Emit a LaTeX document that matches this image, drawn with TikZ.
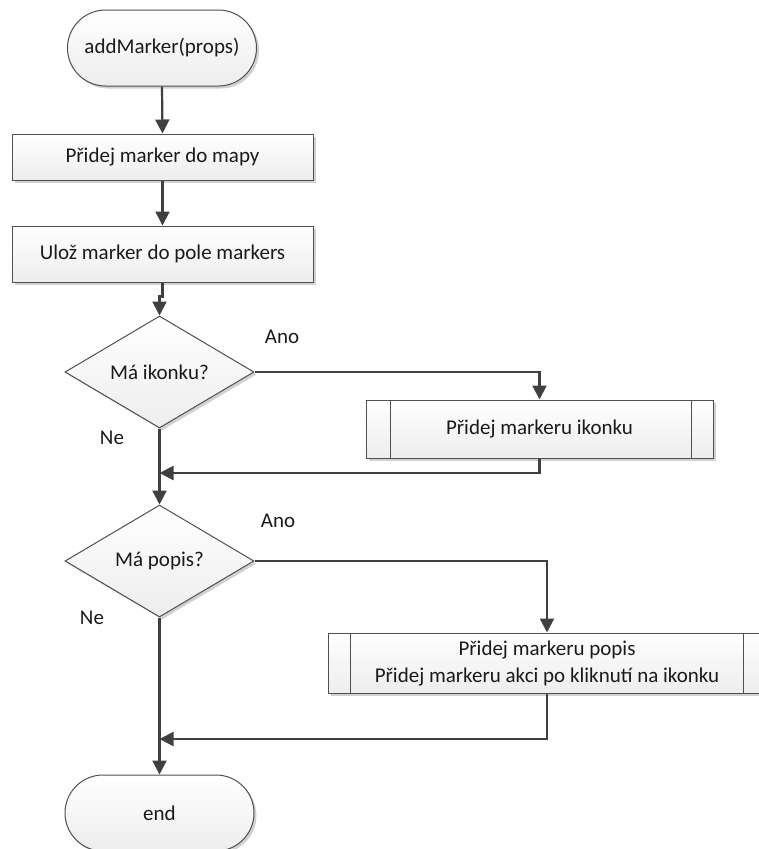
\documentclass[tikz,border=0pt]{standalone}
\usepackage{fontspec}
\setmainfont{Carlito}
\usetikzlibrary{arrows.meta,shapes.geometric,shapes.misc,shadows,calc}

\definecolor{linecol}{HTML}{404040}
\definecolor{edgecol}{HTML}{505050}
\definecolor{txtcol}{HTML}{1A1A1A}

\tikzset{
  shapebase/.style={draw=edgecol, line width=1pt, top color=white, bottom color=black!7,
    text=txtcol, inner sep=0pt, align=center,
    font=\fontsize{21}{27}\selectfont,
    drop shadow={shadow xshift=2.5pt, shadow yshift=-2.5pt, opacity=0.18, fill=black}},
  terminal/.style={shapebase, rounded rectangle, minimum width=189pt, minimum height=76pt},
  procbox/.style={shapebase, rectangle, minimum width=301pt},
  decision/.style={shapebase, diamond, aspect=1.69, minimum width=189pt, minimum height=112pt},
  subproc/.style={shapebase, rectangle},
  flow/.style={draw=linecol, line width=2.2pt, -{Triangle[width=14pt,length=14pt]}},
  lbl/.style={text=txtcol, font=\fontsize{21}{27}\selectfont, inner sep=0pt}
}

\begin{document}
\begin{tikzpicture}[x=1pt, y=-1pt]
  \useasboundingbox (0,0) rectangle (759,849);

  % main column
  \node[terminal] (start) at (162,48) {addMarker(props)};
  \node[procbox, minimum height=46pt] (add) at (162.5,157) {Přidej marker do mapy};
  \node[procbox, minimum height=56pt] (save) at (162.5,254) {Ulož marker do pole markers};
  \node[decision] (hasicon) at (159.5,372) {Má ikonku?};
  \node[decision] (hasdesc) at (159.5,561) {Má popis?};
  \node[terminal] (stop) at (159.5,813) {end};

  % sub-process boxes with side bars
  \node[subproc, minimum width=347pt, minimum height=58pt] (seticon) at (539.5,429) {Přidej markeru ikonku};
  \draw[edgecol, line width=1pt] ($(seticon.north west)+(25,0)$) -- ($(seticon.south west)+(25,0)$);
  \draw[edgecol, line width=1pt] ($(seticon.north east)+(-22,0)$) -- ($(seticon.south east)+(-22,0)$);

  \node[subproc, minimum width=438pt, minimum height=60pt] (setdesc) at (547,663)
    {Přidej markeru popis\\Přidej markeru akci po kliknutí na ikonku};
  \draw[edgecol, line width=1pt] ($(setdesc.north west)+(23,0)$) -- ($(setdesc.south west)+(23,0)$);
  \draw[edgecol, line width=1pt] ($(setdesc.north east)+(-23,0)$) -- ($(setdesc.south east)+(-23,0)$);

  % merge points on the main column
  \coordinate (join1) at (159.5,473);
  \coordinate (join2) at (159.5,739);

  % connectors
  \draw[flow] (start.south) -- (add.north);
  \draw[flow] (add.south) -- (save.north);
  \draw[flow] (save.south) -- ++(0,14) -| (hasicon.north);
  \draw[flow] (hasicon.east) -| (seticon.north);
  \draw[flow] (seticon.south) |- (join1);
  \draw[flow] (hasicon.south) -- (hasdesc.north);
  \draw[flow] (hasdesc.east) -| (setdesc.north);
  \draw[flow] (setdesc.south) |- (join2);
  \draw[flow] (hasdesc.south) -- (stop.north);

  % branch labels
  \node[lbl] (yes1) at (282,337) {Ano};
  \node[lbl] (no1) at (112,438) {Ne};
  \node[lbl] (yes2) at (278,521) {Ano};
  \node[lbl] (no2) at (92,618) {Ne};
\end{tikzpicture}
\end{document}
